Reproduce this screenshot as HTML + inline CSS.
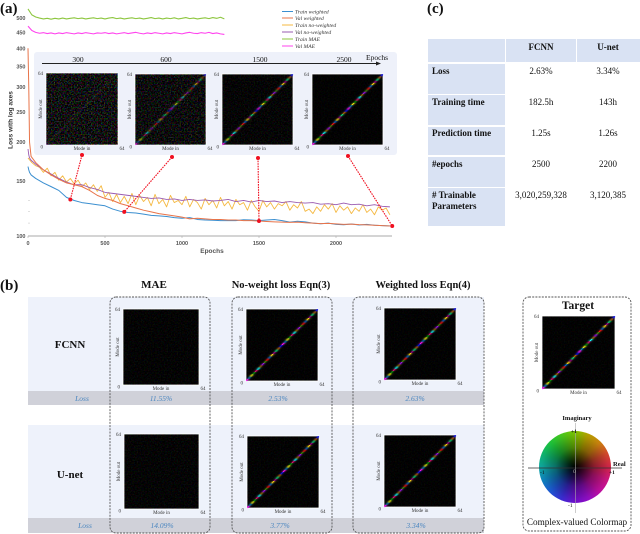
<!DOCTYPE html>
<html lang="en">
<head>
<meta charset="utf-8">
<title>Loss curves and mode-matrix comparison</title>
<style>
html,body{margin:0;padding:0;background:#fff;width:640px;height:534px;overflow:hidden}
#stage{position:relative;width:640px;height:534px;filter:blur(0.3px)}
#colormap{position:absolute;left:539px;top:431px;width:72px;height:72px;border-radius:50%;overflow:hidden;
background:conic-gradient(from 0deg,#88d800,#c8b000,#e09010,#e85030,#e82850,#e01890,#d010b0,#a010d8,#7a10e0,#4030e8,#2060e8,#1090d0,#10b8b0,#10c878,#20d840,#50dc20,#88d800)}
#colormap:after{content:"";position:absolute;inset:0;border-radius:50%;background:radial-gradient(circle,#000 0%,rgba(0,0,0,.8) 14%,rgba(0,0,0,.4) 38%,rgba(0,0,0,.12) 65%,rgba(0,0,0,0) 90%)}
svg{position:absolute;left:0;top:0}
text{font-family:"Liberation Serif",serif;fill:#111}
.tick{font-family:"Liberation Sans",sans-serif;font-weight:700;font-size:5.5px;fill:#555}
.leg{font-style:italic;font-size:5.6px;fill:#333}
.b{font-weight:700}
.cell{font-size:9px;text-anchor:middle}
.rowh{font-size:9px;font-weight:700}
.loss{font-style:italic;font-size:7.5px;fill:#4a86c0;text-anchor:middle}
.pl{font-size:5px;fill:#333}
</style>
</head>
<body>
<div id="stage">
<div id="colormap"></div>
<svg id="fig" width="640" height="534" viewBox="0 0 640 534" xmlns="http://www.w3.org/2000/svg">
<defs>
<filter id="noise" x="0" y="0" width="100%" height="100%" color-interpolation-filters="sRGB">
<feTurbulence type="fractalNoise" baseFrequency="0.7" numOctaves="1" seed="7"/>
<feColorMatrix type="matrix" values="7 0 0 0 -3.4  0 7 0 0 -3.4  0 0 7 0 -3.4  0 0 0 0 1"/>
</filter>
</defs>

<text x="0" y="13" class="b" font-size="15">(a)</text>
<text x="427" y="13" class="b" font-size="15">(c)</text>
<text x="0" y="290" class="b" font-size="15">(b)</text>

<g id="plot"></g>

<g>
<line x1="282" x2="293" y1="11.5" y2="11.5" stroke="#3b8fd0"/>
<text x="295" y="13.5" class="leg">Train weighted</text>
<line x1="282" x2="293" y1="18" y2="18" stroke="#e8744a"/>
<text x="295" y="20" class="leg">Val weighted</text>
<line x1="282" x2="293" y1="25" y2="25" stroke="#f5b942"/>
<text x="295" y="27" class="leg">Train no-weighted</text>
<line x1="282" x2="293" y1="32" y2="32" stroke="#9a5bb0"/>
<text x="295" y="34" class="leg">Val no-weighted</text>
<line x1="282" x2="293" y1="39" y2="39" stroke="#8dc63f"/>
<text x="295" y="41" class="leg">Train MAE</text>
<line x1="282" x2="293" y1="46" y2="46" stroke="#ff44ee"/>
<text x="295" y="48" class="leg">Val MAE</text>
</g>

<rect x="34" y="52" width="363" height="103" rx="3" fill="#eef1fa"/>
<g>
<line x1="42" y1="63.5" x2="378" y2="63.5" stroke="#222" stroke-width="1.1"/>
<polygon points="381,63.5 376,61.5 376,65.5" fill="#222"/>
<text x="78" y="62" font-size="7.5" text-anchor="middle">300</text>
<text x="166" y="62" font-size="7.5" text-anchor="middle">600</text>
<text x="260" y="62" font-size="7.5" text-anchor="middle">1500</text>
<text x="344" y="62" font-size="7.5" text-anchor="middle">2500</text>
<text x="366" y="60" font-size="7.5">Epochs</text>
</g>
<g id="insets"></g>
<g id="connectors"></g>

<g>
<rect x="428" y="39" width="77" height="23" fill="#d9e2f3"/>
<rect x="506" y="39" width="70" height="23" fill="#d9e2f3"/>
<rect x="577" y="39" width="63" height="23" fill="#d9e2f3"/>
<rect x="428" y="64" width="77" height="30" fill="#d9e2f3"/>
<rect x="428" y="95" width="77" height="30" fill="#d9e2f3"/>
<rect x="428" y="127" width="77" height="28" fill="#d9e2f3"/>
<rect x="428" y="157" width="77" height="30" fill="#d9e2f3"/>
<rect x="428" y="188" width="77" height="38" fill="#d9e2f3"/>
<text x="541" y="50" class="cell b">FCNN</text>
<text x="608" y="50" class="cell b">U-net</text>
<text x="432" y="74" class="rowh">Loss</text>
<text x="541" y="74" class="cell">2.63%</text>
<text x="608" y="74" class="cell">3.34%</text>
<text x="432" y="105" class="rowh">Training time</text>
<text x="541" y="105" class="cell">182.5h</text>
<text x="608" y="105" class="cell">143h</text>
<text x="432" y="136" class="rowh">Prediction time</text>
<text x="541" y="136" class="cell">1.25s</text>
<text x="608" y="136" class="cell">1.26s</text>
<text x="432" y="167" class="rowh">#epochs</text>
<text x="541" y="167" class="cell">2500</text>
<text x="608" y="167" class="cell">2200</text>
<text x="432" y="198" class="rowh"># Trainable</text>
<text x="432" y="209" class="rowh">Parameters</text>
<text x="541" y="198" class="cell">3,020,259,328</text>
<text x="608" y="198" class="cell">3,120,385</text>
</g>

<g>
<rect x="28" y="297" width="456" height="94" fill="#eef2fb"/>
<rect x="28" y="391" width="456" height="14" fill="#d0d1d9"/>
<rect x="28" y="425" width="456" height="93" fill="#eef2fb"/>
<rect x="28" y="518" width="456" height="15" fill="#d0d1d9"/>
<text x="154" y="288" class="b" font-size="11" text-anchor="middle">MAE</text>
<text x="281" y="288" class="b" font-size="10.5" text-anchor="middle">No-weight loss Eqn(3)</text>
<text x="423" y="288" class="b" font-size="10.5" text-anchor="middle">Weighted loss Eqn(4)</text>
<text x="70" y="348" class="b" font-size="11" text-anchor="middle">FCNN</text>
<text x="70" y="478" class="b" font-size="11" text-anchor="middle">U-net</text>
<text x="82" y="401" class="loss">Loss</text>
<text x="161" y="401" class="loss">11.55%</text>
<text x="278" y="401" class="loss">2.53%</text>
<text x="415" y="401" class="loss">2.63%</text>
<text x="85" y="528" class="loss">Loss</text>
<text x="162" y="528" class="loss">14.09%</text>
<text x="280" y="528" class="loss">3.77%</text>
<text x="416" y="528" class="loss">3.34%</text>
</g>
<g id="grids"></g>
<g fill="none" stroke="#555" stroke-width="0.9" stroke-dasharray="2 1.2">
<rect x="110" y="297" width="100" height="236" rx="6"/>
<rect x="232" y="297" width="100" height="236" rx="6"/>
<rect x="353" y="297" width="131" height="236" rx="6"/>
<rect x="523" y="297" width="108" height="234" rx="6"/>
</g>

<g>
<text x="578" y="309" class="b" font-size="11.5" text-anchor="middle">Target</text>
<text x="577" y="420" class="b" font-size="6.5" text-anchor="middle">Imaginary</text>
<text x="613" y="466" class="b" font-size="6.5">Real</text>
<line x1="528" y1="468" x2="622" y2="468" stroke="#333" stroke-width="0.7"/>
<line x1="575.5" y1="423" x2="575.5" y2="513" stroke="#aaa" stroke-width="0.6"/>
<text x="571" y="433" font-size="5.5" class="b">+1</text>
<text x="540" y="474" font-size="5.5">-1</text>
<text x="609" y="474" font-size="5.5" class="b">+1</text>
<text x="573" y="473" font-size="5.5" style="fill:#aaa">0</text>
<text x="568" y="507" font-size="5.5">-1</text>
<text x="577" y="525" font-size="9.2" text-anchor="middle">Complex-valued Colormap</text>
</g>
</svg>
</div>

<script>
/* ---- chart data ---- */
const epochsCoarse = [0,5,10,20,50,100,150,200,250,300,350,400,450,500,550,600,650,700,750,800,850,900,950,1000,1050,1100,1150,1200,1250,1300,1350,1400,1450,1500,1550,1600,1650,1700,1750,1800,1850,1900,1950,2000,2050,2100,2150,2200,2250,2300,2350];
const epochsFine = [0,25,50,75,100,125,150,175,200,225,250,275,300,325,350,375,400,425,450,475,500,525,550,575,600,625,650,675,700,725,750,775,800,825,850,875,900,925,950,975,1000,1025,1050,1075,1100,1125,1150,1175,1200,1225,1250,1275,1300,1325,1350,1375,1400,1425,1450,1475,1500,1525,1550,1575,1600,1625,1650,1675,1700,1725,1750,1775,1800,1825,1850,1875,1900,1925,1950,1975,2000,2025,2050,2075,2100,2125,2150,2175,2200,2225,2250,2275,2300,2325,2350];
const trainWeighted = [167,163,160,157,153,148,144,140,133,130,128,127,126,125,122,120,119,118.5,117.5,116.5,116,115.5,114.5,114,114.5,113,112.5,112.3,112,112,112,112.8,112.5,112,112.5,113,112,110.8,111.5,111,110,109.5,110,109,108.7,109.3,108.5,109,108.3,108,107.8];
const valWeighted = [400,300,200,180,172,163,157,152,148,146,144,140,135,132,130,127,125,123,121,119.5,118,117,116,115,113.5,114,113.5,113,113,112.5,112.5,112,112,111.7,111.3,111,110.8,110.6,110.8,110.3,110,109.6,109.8,109.4,109,109.2,108.8,108.6,108.3,108,107.7];
const valNoWeighted = [190,182,178,175,170,163,158,153,149,146,146,143,141,138,137,136,135,134,133,132,132.5,131,131.5,130,131,130,130.5,129.5,130,131,129,130,128.5,130,129,129.5,128,129,128,127.5,128,126.5,127,126,127.5,126,126.5,125,126,124.5,124];
const trainNoWeighted = [178,172,168,166,160,165,156,160,151,156,149,153,147,151,144,148,141,146,139,145,133,138,129,136,128,134,127,137,126,135,129,133,125,136,127,131,124,135,128,130,126,134,124,131,128,122,132,126,130,123,133,125,129,122,131,126,128,121,130,124,120,130,124,128,122,127,125,129,121,126,123,129,120,122,118,124,120,126,122,127,119,125,121,124,118,123,120,126,119,122,117,124,121,123,117];
const trainMae = [535,512,504,500,497,499,496,499,497,500,497,499,501,498,500,497,499,501,498,500,497,500,502,498,500,497,499,501,498,500,497,499,502,498,500,497,500,498,501,497,499,502,498,500,497,499,501,498,502,499,503,497];
const valMae = [471,456,450,447,449,446,448,445,448,446,449,447,445,448,446,449,447,445,448,447,449,446,448,445,447,449,446,448,450,447,445,448,446,449,447,445,448,446,449,447,445,448,450,447,446,449,447,450,446,448,445,443];
const yTickValues = [100,150,200,250,300,350,400,450,500];
const xTickValues = [0,500,1000,1500,2000];
const minorYTicks = [110,120,130];
const markerEpochs = [275,625,1500,2365];
const markerLosses = [131,119.5,111.7,107.7];

/* ---- heatmap data ---- */
const diagonalHues = [300,200,60,120,330,180,40,280,90,0,210,50,310,150,30,240];
const diagonalAmplitudes = [1,0.7,0.95,0.55,0.85,1,0.6,0.9,0.5,0.95,0.75,1,0.6,0.85,0.7,0.95];

const NS = 'http://www.w3.org/2000/svg';
const xScale = e => 28 + e * 0.154;
const yScale = v => 236 - 135.4 * Math.log(v / 100);

function make(tag, parent, props) {
  const el = document.createElementNS(NS, tag);
  for (const k in props) el.setAttribute(k, props[k]);
  parent.appendChild(el);
  return el;
}

const plot = document.getElementById('plot');

const xAxis = make('line', plot, {x1: 28, x2: 392, y1: 236, y2: 236, stroke: '#aaa', 'stroke-width': 1});



yTickValues.forEach(v => {
  const t = make('text', plot, {x: 25.5, y: yScale(v) + 2, 'text-anchor': 'end', class: 'tick'});
  t.textContent = v;
  
  
});
minorYTicks.forEach(v => {
  const m = make('line', plot, {x1: 28, x2: 30, y1: yScale(v), y2: yScale(v), stroke: '#ccc', 'stroke-width': 0.6});
  
  
});
xTickValues.forEach(v => {
  const t = make('text', plot, {x: xScale(v), y: 245, 'text-anchor': 'middle', class: 'tick'});
  t.textContent = v;
  
  
  const m = make('line', plot, {x1: xScale(v), x2: xScale(v), y1: 236, y2: 238, stroke: '#aaa', 'stroke-width': 0.6});
  
  
});

const xTitle = make('text', plot, {x: 212, y: 253, 'text-anchor': 'middle', class: 'tick', style: 'font-size:6.5px'});
xTitle.textContent = 'Epochs';



const yTitle = make('text', plot, {transform: 'translate(12.5,120) rotate(-90)', 'text-anchor': 'middle', class: 'tick', style: 'font-size:6.5px;fill:#333'});
yTitle.textContent = 'Loss with log axes';



function drawSeries(name, xs, ys, color, width) {
  const pts = ys.map((v, i) => xScale(xs[i]).toFixed(2) + ',' + yScale(v).toFixed(2)).join(' ');
  const p = make('polyline', plot, {points: pts, fill: 'none', stroke: color, 'stroke-width': width, 'stroke-linejoin': 'round'});
  
  
}
drawSeries('series-train-no-weighted', epochsFine, trainNoWeighted, '#f5b942', 0.9);
drawSeries('series-val-no-weighted', epochsCoarse, valNoWeighted, '#9a5bb0', 0.9);
drawSeries('series-train-weighted', epochsCoarse, trainWeighted, '#3b8fd0', 1);
drawSeries('series-val-weighted', epochsCoarse, valWeighted, '#e8744a', 1);
drawSeries('series-train-mae', epochsFine, trainMae, '#8dc63f', 1.1);
drawSeries('series-val-mae', epochsFine, valMae, '#ff44ee', 1.1);

/* heatmap panels */
function drawPanel(host, name, x, y, size, noise, diag) {
  const g = make('g', host, {});
  
  
  const bg = make('rect', g, {x: x, y: y, width: size, height: size, fill: '#000', stroke: '#fff', 'stroke-width': 0.8});
  
  
  const nz = make('rect', g, {x: x, y: y, width: size, height: size, fill: '#000', filter: 'url(#noise)', opacity: noise});
  
  
  if (diag > 0) {
    const c = size / 64;
    const spread = [[0, 1], [1, 0.42], [-1, 0.42], [2, 0.1], [-2, 0.1], [3, 0.04], [-3, 0.04]];
    for (let i = 0; i < 64; i++) {
      const k = Math.floor(i / 2) % diagonalHues.length;
      const hue = diagonalHues[k];
      spread.forEach(s => {
        const col = i + s[0];
        if (col < 0 || col > 63) return;
        const r = make('rect', g, {x: x + col * c, y: y + size - (i + 1) * c, width: c + 0.1, height: c + 0.1,
          fill: 'hsl(' + hue + ',100%,55%)', opacity: diag * s[1] * diagonalAmplitudes[k]});
        
        
      });
    }
  }
  const labels = [
    ['64', x - 3, y + 2, 'end', 'mode-out-max'],
    ['0', x - 3, y + size + 3.5, 'end', 'mode-out-min'],
    ['Mode in', x + size / 2, y + size + 5, 'middle', 'mode-in-label'],
    ['64', x + size + 4, y + size + 5, 'middle', 'mode-in-max']
  ];
  labels.forEach(l => {
    const t = make('text', g, {x: l[1], y: l[2], 'text-anchor': l[3], class: 'pl'});
    t.textContent = l[0];
    
    
  });
  const o = make('text', g, {transform: 'translate(' + (x - 4) + ',' + (y + size / 2) + ') rotate(-90)', 'text-anchor': 'middle', class: 'pl'});
  o.textContent = 'Mode out';
  
  
}

const insets = document.getElementById('insets');
drawPanel(insets, 'heatmap-epoch-300', 46, 73, 72, 0.24, 0.14);
drawPanel(insets, 'heatmap-epoch-600', 135, 74, 71, 0.18, 0.6);
drawPanel(insets, 'heatmap-epoch-1500', 222, 74, 71, 0.07, 0.85);
drawPanel(insets, 'heatmap-epoch-2500', 312, 74, 71, 0.03, 0.95);

const grids = document.getElementById('grids');
drawPanel(grids, 'heatmap-fcnn-mae', 123, 309, 76, 0.05, 0);
drawPanel(grids, 'heatmap-unet-mae', 124, 434, 75, 0.06, 0);
drawPanel(grids, 'heatmap-fcnn-no-weight', 246, 309, 72, 0.03, 0.95);
drawPanel(grids, 'heatmap-unet-no-weight', 247, 436, 72, 0.04, 0.95);
drawPanel(grids, 'heatmap-fcnn-weighted', 384, 308, 72, 0.03, 0.95);
drawPanel(grids, 'heatmap-unet-weighted', 384, 435, 72, 0.03, 0.95);
drawPanel(grids, 'heatmap-target', 542, 316, 73, 0.03, 1);

/* connectors from inset panels to the curve */
const connectors = document.getElementById('connectors');
const connectorTops = [[82, 155], [172, 157], [258, 158], [348, 156]];
markerEpochs.forEach((e, i) => {
  const mx = xScale(e), my = yScale(markerLosses[i]);
  const l = make('line', connectors, {x1: connectorTops[i][0], y1: connectorTops[i][1], x2: mx, y2: my, stroke: '#f01020', 'stroke-width': 1.1, 'stroke-dasharray': '1.6 1'});
  
  
  const a = make('circle', connectors, {cx: connectorTops[i][0], cy: connectorTops[i][1], r: 2, fill: '#f01020'});
  
  
  const b = make('circle', connectors, {cx: mx, cy: my, r: 2, fill: '#f01020'});
  
  
});
</script>
</body>
</html>
